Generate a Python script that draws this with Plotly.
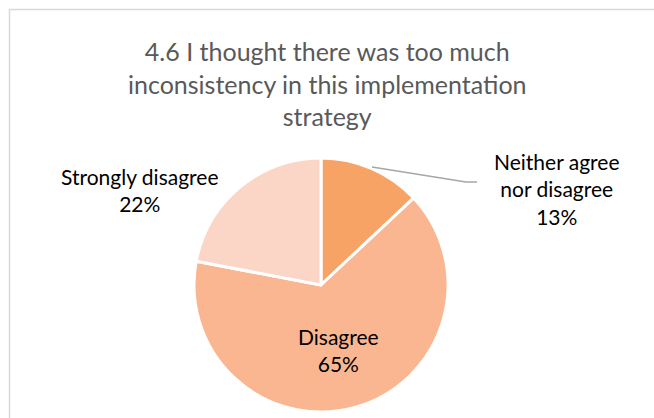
import plotly.graph_objects as go

# Survey responses for item 4.6
categories = ["Neither agree nor disagree", "Disagree", "Strongly disagree"]
shares = [13, 65, 22]
slice_colors = ["#F8A366", "#F9B691", "#FBD6C6"]
title_lines = ["4.6 I thought there was too much",
               "inconsistency in this implementation",
               "strategy"]

W, H = 654, 418


def px(x):
    return x / W


def py(y):
    return 1 - y / H


# Pie placement (centre and radius in pixels)
cx, cy, r = 321, 285, 127

fig = go.Figure()
fig.add_trace(go.Pie(
    labels=categories,
    values=shares,
    sort=False,
    direction="clockwise",
    rotation=0,
    marker=dict(colors=slice_colors, line=dict(color="white", width=3)),
    textinfo="none",
    hoverinfo="label+percent",
    showlegend=False,
    domain=dict(x=[px(cx - r), px(cx + r)], y=[py(cy + r), py(cy - r)]),
))

label_font = dict(family="Lato, Carlito, sans-serif", size=21, color="#000000")
annotations = []

# Title
annotations.append(dict(
    text="<br>".join(title_lines), x=px(327), y=py(84), xref="paper", yref="paper",
    xanchor="center", yanchor="middle", showarrow=False, align="center",
    font=dict(family="Lato, Carlito, sans-serif", size=25, color="#595959"),
))

# Data labels
label_pos = {
    "Neither agree nor disagree": (557, 189, "Neither agree<br>nor disagree"),
    "Disagree": (338, 350, "Disagree"),
    "Strongly disagree": (140, 190, "Strongly disagree"),
}
for cat, val in zip(categories, shares):
    x, y, name = label_pos[cat]
    annotations.append(dict(
        text=f"{name}<br>{val}%", x=px(x), y=py(y), xref="paper", yref="paper",
        xanchor="center", yanchor="middle", showarrow=False, align="center",
        font=label_font,
    ))

shapes = [
    # chart area border
    dict(type="rect", xref="paper", yref="paper",
         x0=px(9.5), y0=py(430), x1=px(670), y1=py(9.5),
         line=dict(color="#D9D9D9", width=1.5)),
    # leader line for the small slice
    dict(type="path", xref="paper", yref="paper",
         path=f"M {px(372)} {py(167)} L {px(466)} {py(182)} L {px(477)} {py(182)}",
         line=dict(color="#A6A6A6", width=1.3)),
]

fig.update_layout(
    width=W, height=H,
    margin=dict(l=0, r=0, t=0, b=0),
    paper_bgcolor="white",
    plot_bgcolor="white",
    annotations=annotations,
    shapes=shapes,
)

fig.write_html("out.html")
